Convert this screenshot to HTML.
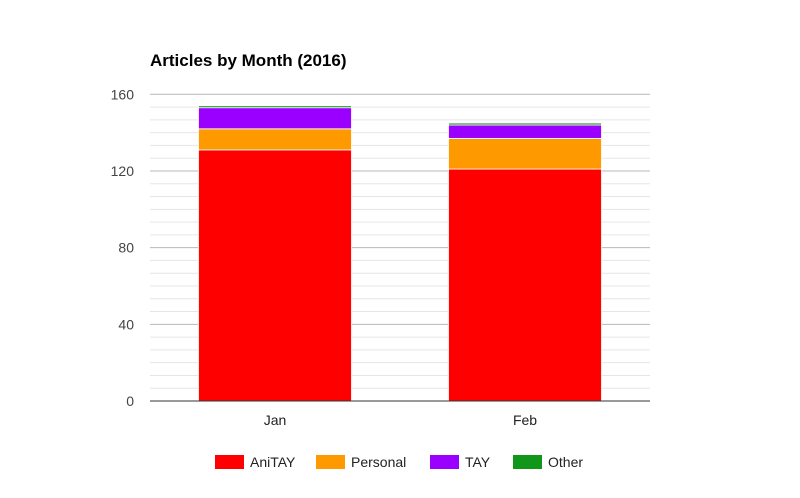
<!DOCTYPE html>
<html><head><meta charset="utf-8"><style>
body{margin:0;background:#fff;font-family:"Liberation Sans",Arial,sans-serif}
</style></head><body>
<svg width="800" height="493" xmlns="http://www.w3.org/2000/svg">
<text x="150" y="66" font-size="17" font-weight="bold" fill="#000">Articles by Month (2016)</text>
<g id="grid"></g><g id="bars"></g><g id="axis"></g><g id="legend"></g>
</svg>
<script>
const categories=["Jan","Feb"];
const seriesNames=["AniTAY","Personal","TAY","Other"];
const aniTAY=[131,121];
const personal=[11,16];
const tay=[11,7];
const other=[1,1];
const yTicks=[0,40,80,120,160];
const colors=["#ff0000","#ff9900","#9900ff","#109618"];
const NS="http://www.w3.org/2000/svg";
const x0=150,x1=650,yb=401,yt=94.3,ymax=160;
const y=v=>yb-(v/ymax)*(yb-yt);
function mk(t,a,p){const e=document.createElementNS(NS,t);for(const k in a)e.setAttribute(k,a[k]);p.appendChild(e);return e;}
const grid=document.getElementById('grid'),bars=document.getElementById('bars'),axis=document.getElementById('axis'),legend=document.getElementById('legend');
for(let i=0;i<yTicks.length-1;i++){const step=(yTicks[i+1]-yTicks[i])/6;for(let j=1;j<6;j++){const l=mk('line',{x1:x0,x2:x1,y1:y(yTicks[i]+j*step),y2:y(yTicks[i]+j*step),stroke:'#e6e6e6','stroke-width':1},grid);

}}
yTicks.forEach(v=>{const l=mk('line',{x1:x0,x2:x1,y1:y(v),y2:y(v),stroke:v===0?'#333':'#b8b8b8','stroke-width':1},v===0?axis:grid);


const t=mk('text',{x:x0-16,y:y(v)+5,'text-anchor':'end','font-size':14,fill:'#444'},axis);t.textContent=v;

});
const series=[aniTAY,personal,tay,other];
const band=(x1-x0)/categories.length,bw=153;
categories.forEach((c,i)=>{let acc=0;const cx=x0+band*(i+0.5);
series.forEach((s,k)=>{const r=mk('rect',{x:cx-bw/2,y:y(acc+s[i]),width:bw,height:y(acc)-y(acc+s[i]),fill:colors[k],stroke:'#fff','stroke-width':0.8},bars);

acc+=s[i];});
const t=mk('text',{x:cx,y:425,'text-anchor':'middle','font-size':14,fill:'#222'},axis);t.textContent=c;

});
const lx=[215,316,430,513];
seriesNames.forEach((n,k)=>{const g=mk('g',{},legend);


mk('rect',{x:lx[k],y:455,width:29,height:14,fill:colors[k]},g);
const t=mk('text',{x:lx[k]+35,y:467,'font-size':14,fill:'#222'},g);t.textContent=n;});
</script>
</body></html>
